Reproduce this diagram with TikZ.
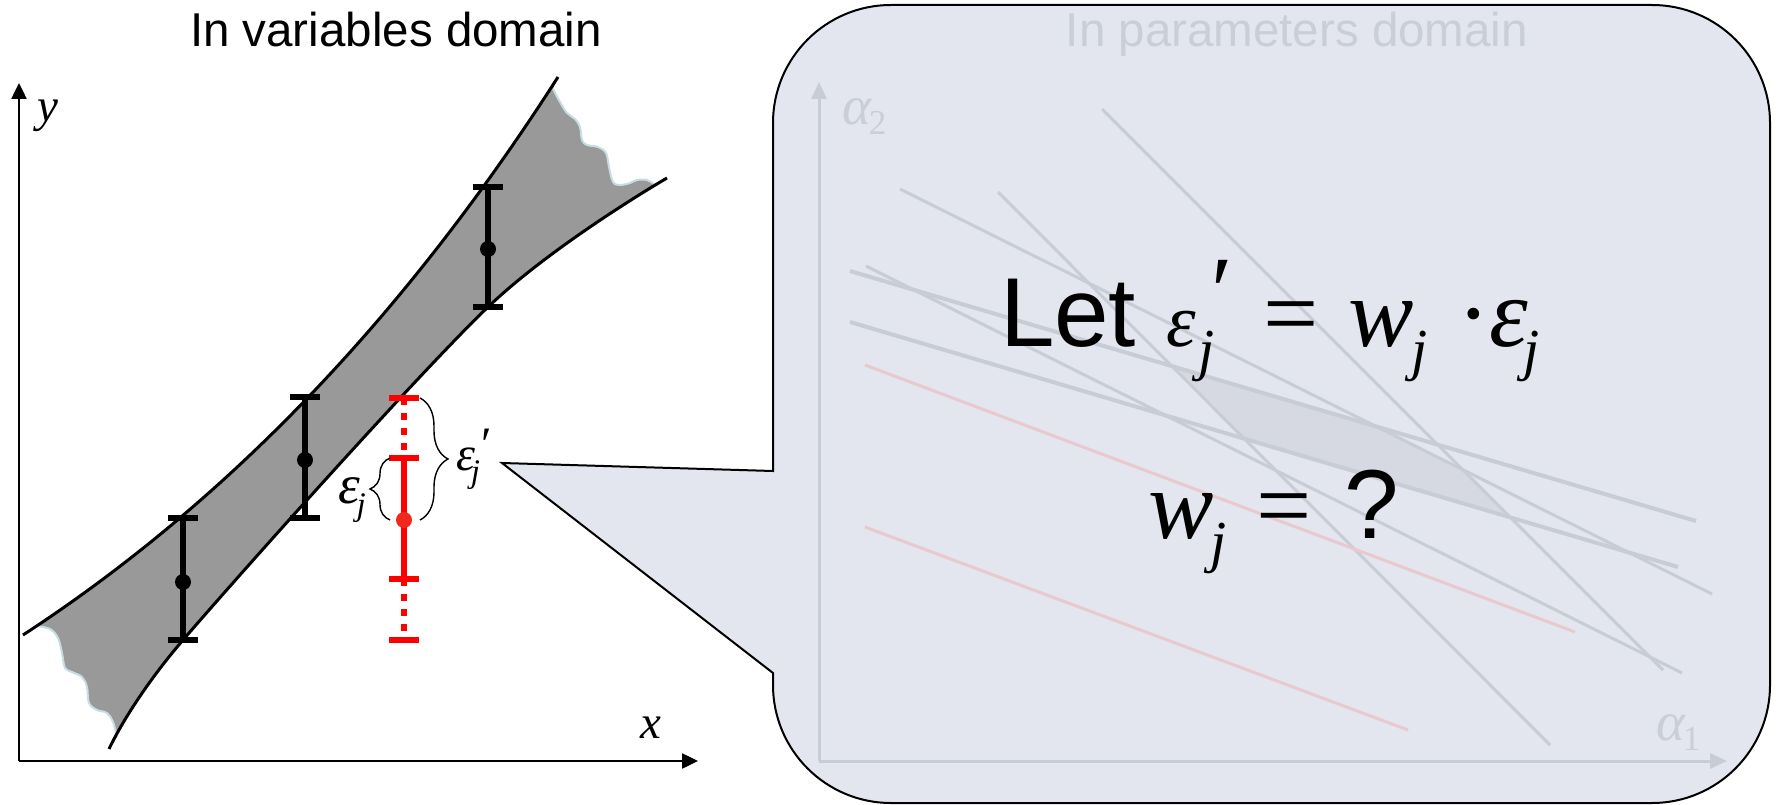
\documentclass[tikz,border=0pt]{standalone}
\usepackage{fontspec}
\setmainfont{Liberation Sans}
\newfontfamily\tnr{Liberation Serif}
\usetikzlibrary{arrows.meta,decorations.pathreplacing}
\definecolor{bandgray}{HTML}{999999}
\definecolor{tornedge}{HTML}{C8DCE2}
\definecolor{errred}{HTML}{FF0000}
\definecolor{dotred}{HTML}{F0281E}
\definecolor{bubblebg}{HTML}{E3E6EE}
\definecolor{faint}{HTML}{C8CCD5}
\definecolor{faintred}{HTML}{E9C9D0}
\definecolor{fainttext}{HTML}{CACED7}
\definecolor{overlapgray}{HTML}{D6D9E1}
% italic serif letter at a given size
\newcommand\vi[2]{{\tnr\itshape\fontsize{#1}{#1}\selectfont #2}}
\tikzset{every node/.style={inner sep=0pt,outer sep=0pt},
  axis/.style={-{Triangle[length=16pt,width=15pt]},line width=2.5pt},
  faxis/.style={-{Triangle[length=17pt,width=15pt]},draw=faint,line width=3pt},
  bandline/.style={draw=black,line width=3pt},
  torn/.style={draw=tornedge,line width=2pt},
  bar/.style={line width=6pt},
  barcap/.style={line width=6pt},
  fline/.style={draw=faint,line width=3pt},
  fred/.style={draw=faintred,line width=3pt},
  brc/.style={decorate,decoration={brace,amplitude=#1},line width=1.4pt},
  title/.style={font=\fontsize{47.5}{50}\selectfont,anchor=base},
  big/.style={font=\fontsize{98}{98}\selectfont,anchor=base west},
  bubble/.style={fill=bubblebg,draw=black,line width=2pt}}

\begin{document}
\begin{tikzpicture}[x=1pt,y=-1pt]
\useasboundingbox (0,0) rectangle (1781,805);
% band between the two extreme lines, torn at both ends
\fill[bandgray] (23,635) .. controls (227,502) and (405,316) .. (558,77)
  -- plot[smooth,tension=.6] coordinates {(553,89) (560,102) (567,113) (575,119) (580,127) (582,140) (587,145) (598,147) (606,153) (609,167) (613,182) (620,185) (630,183) (637,180) (647,180) (655,185)}
  -- plot[smooth,tension=.5] coordinates {(667,178) (488,307) (183,640) (109,749)}
  -- plot[smooth,tension=.6] coordinates {(117,737) (113,722) (107,713) (97,710) (89,703) (87,687) (82,677) (72,672) (65,668) (62,653) (58,638) (50,629) (37,626)}
  -- cycle;
\draw[torn] plot[smooth,tension=.6] coordinates {(553,89) (560,102) (567,113) (575,119) (580,127) (582,140) (587,145) (598,147) (606,153) (609,167) (613,182) (620,185) (630,183) (637,180) (647,180) (655,185)};
\draw[torn] plot[smooth,tension=.6] coordinates {(117,737) (113,722) (107,713) (97,710) (89,703) (87,687) (82,677) (72,672) (65,668) (62,653) (58,638) (50,629) (37,626)};
\draw[bandline] (23,635) .. controls (227,502) and (405,316) .. (558,77);
\draw[bandline] plot[smooth,tension=.5] coordinates {(109,749) (183,640) (488,307) (667,178)};
% axes
\coordinate (origin) at (19,761);
\draw[axis] (origin) -- (19,83);
\draw[axis] (origin) -- (698,761);
\node[anchor=base] (ylab) at (48,122) {\vi{47}{y}};
\node[anchor=base] (xlab) at (651,738) {\vi{47}{x}};
\node[title] (ltitle) at (396,47) {In variables domain};
% measurements
\foreach \bx/\btop/\bbot/\bmid in {183/518/640/582,305/397/518/460,488/187/307/249}{
  \draw[bar] (\bx,\btop) -- (\bx,\bbot);
  \draw[barcap] (\bx-15,\btop) -- (\bx+15,\btop) (\bx-15,\bbot) -- (\bx+15,\bbot);
  \fill (\bx,\bmid) circle[radius=8];
}
\coordinate (rtop) at (404,398);
\coordinate (rhi) at (404,458);
\coordinate (rdot) at (404,520);
\coordinate (rlo) at (404,579);
\coordinate (rbot) at (404,640);
\draw[bar,errred] (rhi) -- (rlo);
\draw[bar,errred,dash pattern=on 7pt off 8pt] (rtop) -- (rhi) (rlo) -- (rbot);
\foreach \c in {rtop,rhi,rlo,rbot}
  \draw[barcap,errred] ([xshift=-15pt]\c) -- ([xshift=15pt]\c);
\fill[dotred] (rdot) circle[radius=8];
\draw[brc=20pt] (390,520) -- (390,458);
\draw[brc=28pt] (420,398) -- (420,520);
\node[anchor=base west] (epsj) at (338,503) {\vi{55}{ε}\hspace{-3pt}\raisebox{-12pt}{\vi{33}{j}}};
\node[anchor=base west] (epsjp) at (456,470) {\vi{48}{ε}\hspace{-4pt}\raisebox{-12pt}{\vi{33}{j}}\hspace{1pt}\raisebox{10pt}{\tnr\fontsize{48}{48}\selectfont ′}};
% callout
\coordinate (tip) at (502,463);
\draw[bubble] (773,673) -- (773,685) arc[start angle=180,end angle=90,radius=118]
  -- (1652,803) arc[start angle=90,end angle=0,radius=118]
  -- (1770,123) arc[start angle=0,end angle=-90,radius=118]
  -- (891,5) arc[start angle=270,end angle=180,radius=118]
  -- (773,471) -- (tip) -- cycle;
% faded parameter plane
\fill[overlapgray] (1172,366) -- (1377,427) -- (1463,470) -- (1510,517) -- (1245,439) -- cycle;
\foreach \xa/\ya/\xb/\yb in {900/189/1712/594,998/192/1550/745,1102/109/1663/670,866/266/1682/673}
  \draw[fline] (\xa,\ya) -- (\xb,\yb);
\draw[fline,line width=4pt] (850,271) -- (1696,521);
\draw[fline,line width=4pt] (850,322) -- (1678,567);
\draw[fred] (865,365) -- (1575,632);
\draw[fred] (865,527) -- (1408,730);
\coordinate (porigin) at (819,761);
\draw[faxis] (porigin) -- (819,82);
\draw[faxis] (porigin) -- (1727,761);
\node[anchor=base west,text=fainttext] (a2) at (842,125) {\vi{55}{α}\hspace{-2pt}\raisebox{-10pt}{{\tnr\fontsize{35}{35}\selectfont 2}}};
\node[anchor=base west,text=fainttext] (a1) at (1656,740) {\vi{55}{α}\hspace{-2pt}\raisebox{-10pt}{{\tnr\fontsize{35}{35}\selectfont 1}}};
\node[title,text=fainttext] (rtitle) at (1297,47) {In parameters domain};
\node[big] (let) at (1000,346) {Let\hspace{30pt}\vi{75}{ε}\hspace{3pt}\raisebox{-23pt}{\vi{58}{j}}\hspace{-3pt}\raisebox{22pt}{\tnr ′}\hspace{30pt}{\tnr =}\hspace{30pt}\vi{98}{w}\hspace{-2pt}\raisebox{-23pt}{\vi{58}{j}}\hspace{29pt}{\tnr ·}\vi{98}{ε}\hspace{-5pt}\raisebox{-23pt}{\vi{58}{j}}};
\node[big] (wq) at (1148,538) {\vi{98}{w}\hspace{-3pt}\raisebox{-23pt}{\vi{58}{j}}\hspace{30pt}{\tnr =}\hspace{33pt}?};
\end{tikzpicture}
\end{document}
